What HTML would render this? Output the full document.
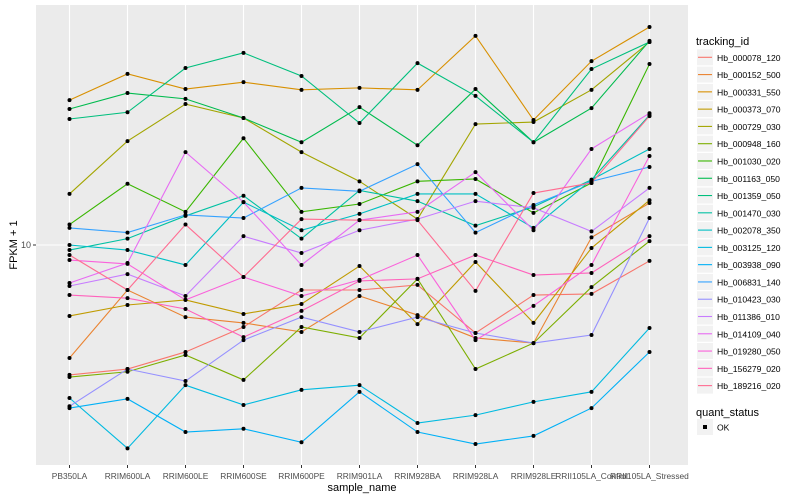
<!DOCTYPE html>
<html><head><meta charset="utf-8"><style>
body{margin:0;background:#fff;}
svg{display:block;font-family:"Liberation Sans",Arial,sans-serif;}
</style></head><body>
<svg id="chart" width="800" height="500" viewBox="0 0 800 500"></svg>
<script>
const categories=["PB350LA","RRIM600LA","RRIM600LE","RRIM600SE","RRIM600PE","RRIM901LA","RRIM928BA","RRIM928LA","RRIM928LE","RRII105LA_Control","RRII105LA_Stressed"];
const seriesNames=["Hb_000078_120","Hb_000152_500","Hb_000331_550","Hb_000373_070","Hb_000729_030","Hb_000948_160","Hb_001030_020","Hb_001163_050","Hb_001359_050","Hb_001470_030","Hb_002078_350","Hb_003125_120","Hb_003938_090","Hb_006831_140","Hb_010423_030","Hb_011386_010","Hb_014109_040","Hb_019280_050","Hb_156279_020","Hb_189216_020"];
const seriesColors=["#F8766D","#EA8331","#D89000","#C09B00","#A3A500","#7CAE00","#39B600","#00BB4E","#00BF7D","#00C1A3","#00BFC4","#00BAE0","#00B0F6","#35A2FF","#9590FF","#C77CFF","#E76BF3","#FA62DB","#FF62BC","#FF6C91"];
const s01=[3.69,3.86,4.40,5.33,7.08,7.08,7.36,5.09,6.81,6.87,8.85];
const s02=[4.20,7.08,5.75,5.50,5.13,6.76,5.84,4.90,4.71,10.6,13.8];
const s03=[30.4,37.2,33.1,34.9,32.9,33.4,32.9,49.8,26.1,41.0,53.3];
const s04=[5.80,6.31,6.56,5.89,6.36,8.51,5.45,8.78,5.50,9.77,14.1];
const s05=[14.8,22.2,29.5,26.5,20.4,16.3,12.2,25.3,25.7,32.9,47.5];
const s06=[3.63,3.78,4.30,3.55,5.33,4.90,7.71,3.86,4.71,7.24,10.3];
const s07=[11.7,16.0,12.9,22.7,12.9,13.7,16.3,16.6,12.8,16.1,40.1];
const s08=[28.4,32.1,30.7,26.5,22.0,28.8,21.5,33.1,22.0,28.6,47.9];
const s09=[26.3,27.7,38.9,43.7,36.6,25.5,40.4,31.4,22.0,38.6,47.5];
const s10=[9.62,10.5,12.5,14.6,10.5,15.2,14.0,11.6,13.4,16.5,27.1];
const s11=[10.0,9.62,8.58,13.9,11.2,12.7,14.8,14.8,11.4,16.5,20.9];
const s12=[3.09,2.10,3.41,2.93,3.29,3.41,2.55,2.71,3.00,3.24,5.29];
const s13=[2.86,3.07,2.38,2.44,2.20,3.24,2.38,2.17,2.31,2.86,4.40];
const s14=[11.4,11.0,12.6,12.3,15.5,15.1,18.6,11.0,13.6,16.3,18.2];
const s15=[2.90,3.86,3.52,4.82,5.75,5.13,5.75,5.09,4.71,5.01,12.3];
const s16=[7.30,8.00,6.76,10.7,9.40,11.2,12.2,14.0,13.3,11.1,15.5];
const s17=[7.47,8.71,20.4,13.9,8.58,12.1,12.9,17.5,11.2,20.9,27.5];
const s18=[8.91,8.65,6.56,7.82,6.76,7.65,9.26,4.82,6.27,8.58,19.8];
const s19=[6.81,6.65,6.12,4.93,6.03,7.59,7.71,9.26,7.94,8.07,10.7];
const s20=[9.26,7.08,11.7,7.82,12.2,12.1,12.1,7.03,14.9,16.1,26.9];
const seriesValues=[s01,s02,s03,s04,s05,s06,s07,s08,s09,s10,s11,s12,s13,s14,s15,s16,s17,s18,s19,s20];
const yTicks=[10];
const yTickLabels=["10"];

const NS="http://www.w3.org/2000/svg";
const svg=document.getElementById('chart');
const P={l:36,r:688,t:5,b:465};
function xPos(i){return 69.5+i*58;}
function yPos(v){return 245-300*Math.log10(v/10);}
function mk(tag,attrs,parent){const e=document.createElementNS(NS,tag);for(const k in attrs)e.setAttribute(k,attrs[k]);(parent||svg).appendChild(e);return e;}

const panel=mk('rect',{x:P.l,y:P.t,width:P.r-P.l,height:P.b-P.t,fill:'#EBEBEB'});


yTicks.forEach((t,k)=>{
  const g=mk('line',{x1:P.l,x2:P.r,y1:yPos(t),y2:yPos(t),stroke:'#fff','stroke-width':1.1});
  
  
  const tk=mk('line',{x1:P.l-3,x2:P.l,y1:yPos(t),y2:yPos(t),stroke:'#333','stroke-width':1});
  
  
  const tl=mk('text',{x:P.l-5,y:yPos(t)+3,'text-anchor':'end','font-size':9,fill:'#4D4D4D'});
  tl.textContent=yTickLabels[k];
  
  
});
categories.forEach((c,i)=>{
  const g=mk('line',{x1:xPos(i),x2:xPos(i),y1:P.t,y2:P.b,stroke:'#fff','stroke-width':1.1});
  
  
  const tk=mk('line',{x1:xPos(i),x2:xPos(i),y1:P.b,y2:P.b+3,stroke:'#333'});
  
  
  const tl=mk('text',{x:xPos(i),y:P.b+14,'text-anchor':'middle','font-size':8.4,fill:'#4D4D4D'});
  tl.textContent=c;
  
  
});
seriesValues.forEach((vals,s)=>{
  const pl=mk('polyline',{points:vals.map((v,i)=>xPos(i)+','+yPos(v)).join(' '),fill:'none',stroke:seriesColors[s],'stroke-width':1.1});
  
  
});
seriesValues.forEach((vals,s)=>{
  vals.forEach((v,i)=>{
    const d=mk('circle',{cx:xPos(i),cy:yPos(v),r:2,fill:'#000'});
    
    
  });
});
const xt=mk('text',{x:362,y:491,'text-anchor':'middle','font-size':11,fill:'#000'});
xt.textContent='sample_name';


const yt=mk('text',{x:0,y:0,'text-anchor':'middle','font-size':11,fill:'#000',transform:'translate(17,245) rotate(-90)'});
yt.textContent='FPKM + 1';



const lt=mk('text',{x:696,y:45,'font-size':11,fill:'#000'});
lt.textContent='tracking_id';


seriesNames.forEach((n,s)=>{
  const cy=57.3+s*17.28;
  const g=mk('g',{});
  
  
  mk('rect',{x:697,y:cy-8,width:16,height:16,fill:'#F2F2F2'},g);
  mk('line',{x1:698,x2:712,y1:cy,y2:cy,stroke:seriesColors[s],'stroke-width':1.1},g);
  const t=mk('text',{x:717,y:cy+3.5,'font-size':8.6,fill:'#000'},g);
  t.textContent=n;
});
const qt=mk('text',{x:696,y:416,'font-size':11,fill:'#000'});
qt.textContent='quant_status';


const qg=mk('g',{});


mk('rect',{x:697,y:419,width:16,height:16,fill:'#F2F2F2'},qg);
mk('rect',{x:703,y:425,width:4,height:4,fill:'#000'},qg);
const ok=mk('text',{x:717,y:430.5,'font-size':8.6,fill:'#000'},qg);
ok.textContent='OK';
</script>
</body></html>
